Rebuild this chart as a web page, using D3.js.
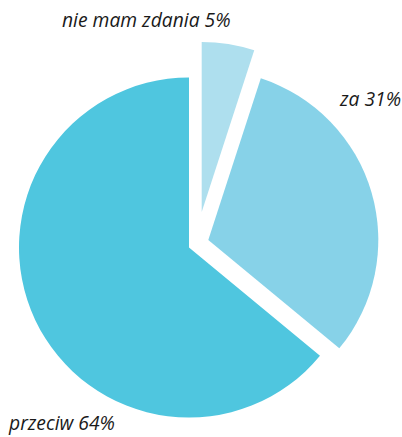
<!DOCTYPE html>
<html><head><meta charset="utf-8">
<script src="https://cdn.jsdelivr.net/npm/d3@7"></script>
<style>body{margin:0;background:#fff}svg{display:block}</style>
</head><body>
<script>
const categories = ["nie mam zdania", "za", "przeciw"];
const values = [5, 31, 64];
const labels = ["nie mam zdania 5%", "za 31%", "przeciw 64%"];
const colors = ["#aedfee", "#87d2e8", "#4fc6df"];
const explode = [[12.7, -35.5], [19.3, -7.5], [0, 0]];
const labelPos = [[62, 27], [340, 106], [9, 430]];

const W = 402, H = 437, cx = 189, cy = 247.5, R = 170;
const svg = d3.select("body").append("svg").attr("width", W).attr("height", H);
const pie = d3.pie().sort(null).value(d => d);
const arcs = pie(values);
const arc = d3.arc().innerRadius(0).outerRadius(R);
const g = svg.append("g").attr("transform", `translate(${cx},${cy})`);
g.selectAll("path").data(arcs).join("path")
  .attr("d", arc)
  .attr("fill", (d, i) => colors[i])
  .attr("transform", (d, i) => `translate(${explode[i][0]},${explode[i][1]})`);
svg.selectAll("text").data(labels).join("text")
  .attr("x", (d, i) => labelPos[i][0])
  .attr("y", (d, i) => labelPos[i][1])
  .attr("font-family", "Open Sans, sans-serif")
  .attr("font-style", "italic")
  .attr("font-size", 19.3)
  .attr("fill", "#1a1a1a")
  .text(d => d);
</script>
</body></html>
